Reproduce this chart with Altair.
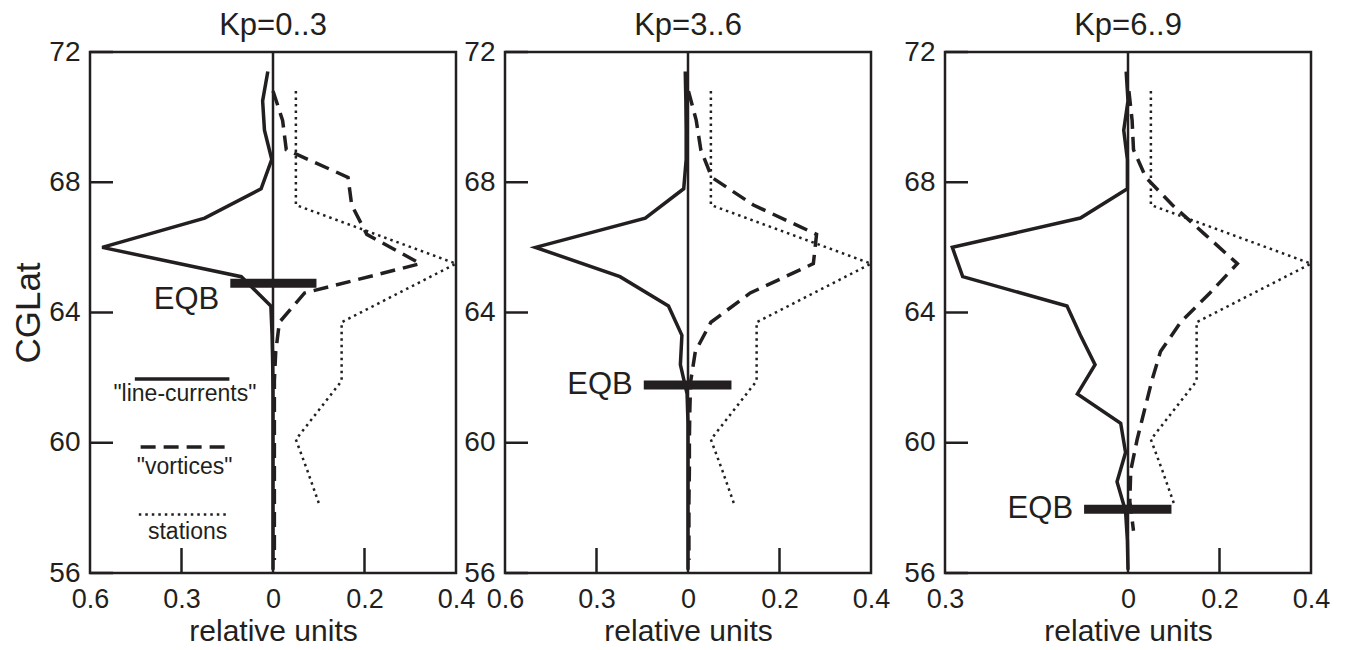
import altair as alt
import pandas as pd

# ---------------- data ----------------
LAT_LC = [71.4, 70.5, 69.6, 68.7, 67.8, 66.9, 66.0, 65.1, 64.2, 63.3, 62.4,
          61.5, 60.6, 59.7, 58.8, 57.9, 57.0, 56.1]
# "line-currents" (plotted to the left, stored as negative values)
LC_03 = [-0.017, -0.034, -0.028, -0.004, -0.039, -0.224, -0.56, -0.104, -0.007,
         -0.003, -0.001, 0, 0, 0, 0, 0, 0, 0]
LC_36 = [-0.009, -0.007, -0.006, -0.006, -0.014, -0.14, -0.50, -0.223, -0.064,
         -0.02, -0.025, -0.003, 0, 0, 0, 0, 0, 0]
LC_69 = [-0.003, 0.0, -0.007, -0.001, -0.001, -0.078, -0.288, -0.271, -0.10,
         -0.078, -0.054, -0.083, -0.012, -0.004, -0.018, -0.004, -0.001, 0]

LAT_VX = [70.8, 69.9, 69.0, 68.15, 67.3, 66.4, 65.5, 64.6, 63.7, 62.8, 61.9,
          61.0, 60.1, 59.15, 58.2, 57.3, 56.4]
VX_03 = [0.0, 0.021, 0.029, 0.164, 0.172, 0.205, 0.322, 0.069, 0.014, 0.006,
         0.003, 0.003, 0.003, 0.003, 0.003, 0.003, 0.003]
VX_36 = [0.001, 0.018, 0.028, 0.052, 0.143, 0.281, 0.274, 0.136, 0.05, 0.016,
         0.006, 0.004, 0.003, 0.003, 0.002, 0.002, 0.002]
VX_69 = [0.002, 0.009, 0.012, 0.039, 0.097, 0.168, 0.239, 0.179, 0.115, 0.071,
         0.052, 0.036, 0.02, 0.006, 0.004, 0.012]

LAT_ST = [70.8, 67.3, 66.4, 65.5, 64.6, 63.7, 61.9, 61.0, 60.1, 59.15, 58.15]
ST = [0.05, 0.05, 0.225, 0.4, 0.275, 0.15, 0.15, 0.1, 0.05, 0.075, 0.1]

TITLES = ["Kp=0..3", "Kp=3..6", "Kp=6..9"]
X_MIN = [-0.6, -0.6, -0.3]
X_LABELS = [[-0.6, -0.3, 0, 0.2, 0.4], [-0.6, -0.3, 0, 0.2, 0.4], [-0.3, 0, 0.2, 0.4]]
X_INNER_TICKS = [[-0.3, 0.2], [-0.3, 0.2], [0.2]]
Y_TICKS = [56, 60, 64, 68, 72]

EQB_LAT = [64.9, 61.77, 57.96]
EQB_X1 = [-0.14, -0.145, -0.072]
EQB_X2 = [0.095, 0.095, 0.095]
EQB_TEXT_LAT = [64.38, 61.77, 57.96]

LEG_LAT = [61.96, 59.87, 57.8]
LEG_X1 = [-0.453, -0.434, -0.44]
LEG_X2 = [-0.143, -0.147, -0.15]
LEG_TEXT = ['"line-currents"', '"vortices"', "stations"]
LEG_TEXT_X = [-0.289, -0.29, -0.28]
LEG_TEXT_LAT = [61.5, 59.25, 57.27]

# ---------------- styling ----------------
INK = "#231f20"
FONT = "Liberation Sans"
W, H = 366, 521
SOLID = dict(color=INK, strokeWidth=3.5)
DASHED = dict(color=INK, strokeWidth=3.5, strokeDash=[15, 8])
DOTTED = dict(color=INK, strokeWidth=2.5, strokeDash=[2.5, 4])


def make_panel(k, lc, vx, lat_vx, legend, ytitle):
    xscale = alt.Scale(domain=[X_MIN[k], 0, 0.4], range=[0, W / 2, W], nice=False, zero=False)
    yscale = alt.Scale(domain=[56, 72], nice=False, zero=False)
    xaxis = alt.Axis(values=X_LABELS[k], labelExpr="format(abs(datum.value), '~g')",
                     ticks=False, domain=False, grid=False, labelFlush=False,
                     labelOverlap=False, labelFontSize=27, labelPadding=13,
                     labelFont=FONT, labelColor=INK, titleFont=FONT, titleColor=INK,
                     titleFontSize=30, titleFontWeight="normal", titlePadding=4)
    yaxis = alt.Axis(values=Y_TICKS, format="d", ticks=False, domain=False, grid=False,
                     labelFlush=False, labelOverlap=False, labelFontSize=28,
                     labelPadding=10, labelFont=FONT, labelColor=INK, titleFont=FONT,
                     titleColor=INK, titleFontSize=35, titleFontWeight="normal",
                     titlePadding=2)

    def X(f):
        return alt.X(f, type="quantitative", scale=xscale, axis=xaxis, title="relative units")

    def Y(f):
        return alt.Y(f, type="quantitative", scale=yscale, axis=yaxis,
                     title=ytitle if ytitle else None)

    def line_df(lats, vals):
        return pd.DataFrame({"lat": lats, "x": vals, "i": list(range(len(vals)))})

    layers = []
    # zero line
    layers.append(alt.Chart(pd.DataFrame({"x": [0]})).mark_rule(color=INK, strokeWidth=2.5)
                  .encode(x=X("x"), y=alt.value(0), y2=alt.value(H)))
    # inner ticks
    layers.append(alt.Chart(pd.DataFrame({"lat": Y_TICKS})).mark_rule(color=INK, strokeWidth=2.5)
                  .encode(y=Y("lat"), x=alt.value(0), x2=alt.value(23)))
    layers.append(alt.Chart(pd.DataFrame({"x": X_INNER_TICKS[k]})).mark_rule(color=INK, strokeWidth=2.5)
                  .encode(x=X("x"), y=alt.value(H - 25), y2=alt.value(H)))
    # curves
    layers.append(alt.Chart(line_df(LAT_ST, ST)).mark_line(**DOTTED)
                  .encode(x=X("x"), y=Y("lat"), order="i:Q"))
    layers.append(alt.Chart(line_df(lat_vx, vx)).mark_line(**DASHED)
                  .encode(x=X("x"), y=Y("lat"), order="i:Q"))
    layers.append(alt.Chart(line_df(LAT_LC, lc)).mark_line(**SOLID)
                  .encode(x=X("x"), y=Y("lat"), order="i:Q"))
    # EQB
    eqb = pd.DataFrame({"x": [EQB_X1[k]], "x2": [EQB_X2[k]], "lat": [EQB_LAT[k]],
                        "tlat": [EQB_TEXT_LAT[k]], "t": ["EQB"]})
    layers.append(alt.Chart(eqb).mark_rule(color=INK, strokeWidth=9)
                  .encode(x=X("x"), x2="x2", y=Y("lat")))
    layers.append(alt.Chart(eqb).mark_text(align="right", baseline="middle", dx=-11,
                                           fontSize=31, font=FONT, color=INK)
                  .encode(x=X("x"), y=Y("tlat"), text="t"))
    if legend:
        styles = [SOLID, DASHED, DOTTED]
        for j in range(3):
            d = pd.DataFrame({"x": [LEG_X1[j]], "x2": [LEG_X2[j]], "lat": [LEG_LAT[j]],
                              "tx": [LEG_TEXT_X[j]], "tlat": [LEG_TEXT_LAT[j]],
                              "t": [LEG_TEXT[j]]})
            layers.append(alt.Chart(d).mark_rule(**styles[j])
                          .encode(x=X("x"), x2="x2", y=Y("lat")))
            layers.append(alt.Chart(d).mark_text(align="center", baseline="middle",
                                                 fontSize=23, font=FONT, color=INK)
                          .encode(x=X("tx"), y=Y("tlat"), text="t"))
    return alt.layer(*layers).properties(
        width=W, height=H,
        title=alt.TitleParams(TITLES[k], fontSize=31, font=FONT, fontWeight="normal",
                              color=INK, anchor="middle", offset=-4))


p1 = make_panel(0, LC_03, VX_03, LAT_VX, True, "CGLat")
p2 = make_panel(1, LC_36, VX_36, LAT_VX, False, None)
p3 = make_panel(2, LC_69, VX_69, LAT_VX[:len(VX_69)], False, None)

chart = alt.hconcat(alt.hconcat(p1, p2, spacing=-15), p3, spacing=10).properties(
    padding={"left": 2, "top": 0, "right": 0, "bottom": 0}, background="white"
).configure_view(stroke=INK, strokeWidth=2.5)

chart.save("out.html", embed_options={"renderer": "svg", "actions": False})
